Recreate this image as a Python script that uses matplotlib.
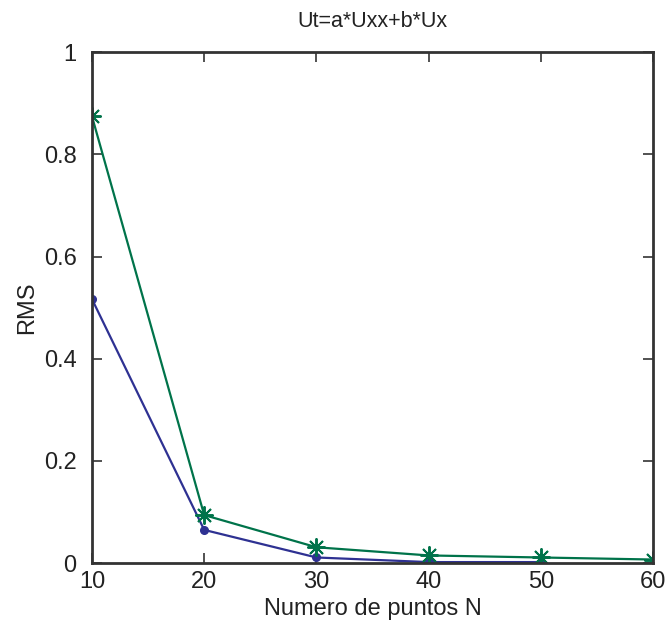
import matplotlib
matplotlib.use("Agg")
import matplotlib.pyplot as plt

# puntos N and RMS values
n_blue = [10, 20, 30, 40, 50]
rms_blue = [0.517, 0.065, 0.011, 0.002, 0.002]
n_green = [10, 20, 30, 40, 50, 60]
rms_green = [0.875, 0.094, 0.031, 0.015, 0.011, 0.007]

xticks = [10, 20, 30, 40, 50, 60]
yticks = [0, 0.2, 0.4, 0.6, 0.8, 1]
ytick_labels = ["0", "0.2", "0.4", "0.6", "0.8", "1"]

plt.rcParams["font.family"] = ["Liberation Sans", "DejaVu Sans"]

fig = plt.figure(figsize=(6.66, 6.37), dpi=100)
ax = fig.add_axes([0.138, 0.116, 0.843, 0.802])

ax.plot(n_blue, rms_blue, color="#2e3192", marker="o", markersize=5.5, linewidth=1.6)
ax.plot(n_green, rms_green, color="#00734a", marker=(8, 2, 0), markersize=13,
        markeredgewidth=1.4, linewidth=1.6)

ax.set_xlim(10, 60)
ax.set_ylim(0, 1)
ax.set_xticks(xticks)
ax.set_yticks(yticks)
ax.set_yticklabels(ytick_labels)
ax.tick_params(direction="in", top=True, right=True, length=7, width=1.2,
               labelsize=17, color="#333333", labelcolor="#222222")
ax.tick_params(axis="x", pad=6)
ax.tick_params(axis="y", pad=11)
for s in ax.spines.values():
    s.set_linewidth(2)
    s.set_color("#333333")

ax.set_title("Ut=a*Uxx+b*Ux", fontsize=15.5, color="#222222", pad=18)
ax.set_xlabel("Numero de puntos N", fontsize=17, color="#222222", labelpad=3)
ax.set_ylabel("RMS", fontsize=17, color="#222222", labelpad=4)

fig.savefig("out.png", dpi=100)
